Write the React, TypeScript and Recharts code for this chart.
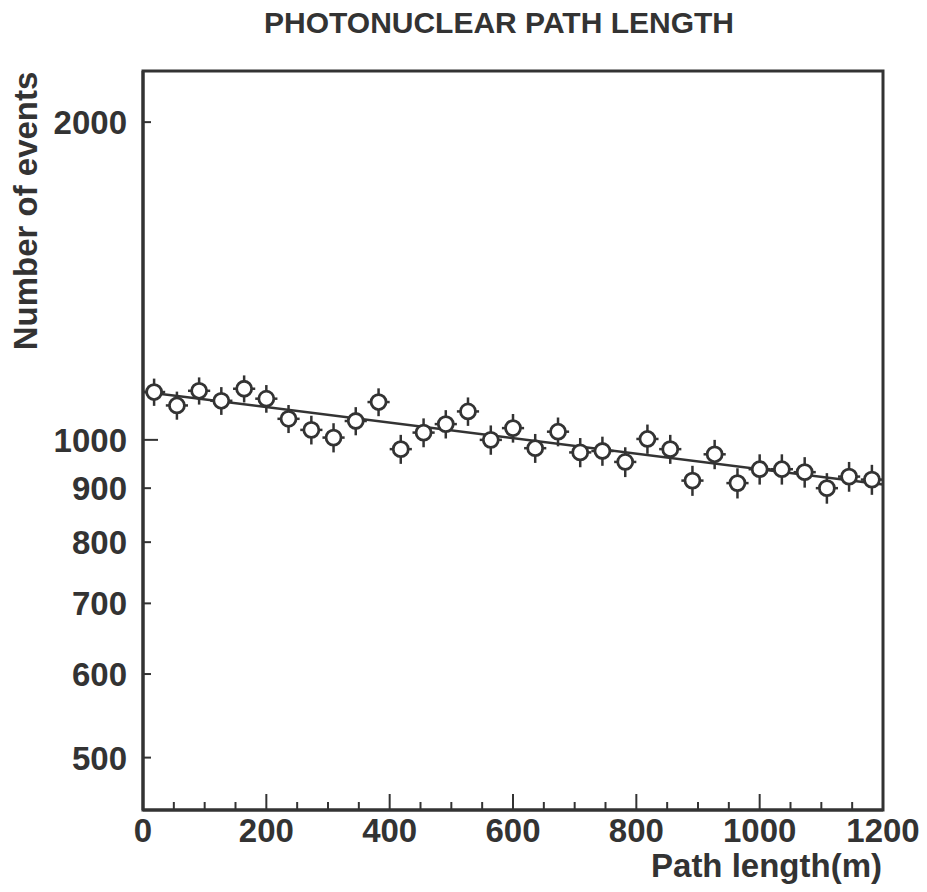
import { ComposedChart, Scatter, Line, XAxis, YAxis, ErrorBar } from 'recharts';

// histogram bins (m) and counts
const binCenters = [18, 55, 91, 127, 164, 200, 236, 273, 309, 345, 382, 418, 455, 491, 527, 564, 600, 636, 673, 709, 745, 782, 818, 855, 891, 927, 964, 1000, 1036, 1073, 1109, 1145, 1182];
const eventCounts = [1110, 1078, 1113, 1089, 1118, 1094, 1047, 1022, 1005, 1042, 1086, 980, 1016, 1035, 1064, 1000, 1026, 982, 1018, 973, 976, 953, 1002, 980, 915, 969, 910, 938, 938, 932, 900, 923, 917];
const countErrors = [33, 33, 33, 33, 33, 33, 32, 32, 32, 32, 33, 31, 32, 32, 33, 32, 32, 31, 32, 31, 31, 31, 32, 31, 30, 31, 30, 31, 31, 31, 30, 30, 30];
const binHalfWidth = 18;

// exponential fit, straight on the log axis
const fitX = [0, 1200];
const fitY = [1111, 907];

const xTicks = [0, 50, 100, 150, 200, 250, 300, 350, 400, 450, 500, 550, 600, 650, 700, 750, 800, 850, 900, 950, 1000, 1050, 1100, 1150, 1200];
const xLabelTicks = [0, 200, 400, 600, 800, 1000, 1200];
const yTicks = [500, 600, 700, 800, 900, 1000, 2000];

const points = binCenters.map((x, i) => ({ x, count: eventCounts[i], ey: countErrors[i], ex: binHalfWidth }));
const fitData = fitX.map((x, i) => ({ x, y: fitY[i] }));

const INK = '#333';
const FONT = "'Liberation Sans', Arial, Helvetica, sans-serif";

function XTick(props: any) {
  const { x, y, payload } = props;
  const major = xLabelTicks.includes(payload.value);
  return (
    <g>
      <line x1={x} y1={y} x2={x} y2={y - (major ? 16 : 8)} stroke={INK} strokeWidth={2} />
      {major && (
        <text x={x} y={y + 32} textAnchor="middle" fill={INK} fontFamily={FONT} fontWeight={700} fontSize={33}>
          {payload.value}
        </text>
      )}
    </g>
  );
}

function YTick(props: any) {
  const { x, y, payload } = props;
  const major = payload.value === 1000;
  return (
    <g>
      <line x1={x} y1={y} x2={x + (major ? 15 : 8)} y2={y} stroke={INK} strokeWidth={2} />
      <text x={x - 16} y={y + 12} textAnchor="end" fill={INK} fontFamily={FONT} fontWeight={700} fontSize={33}>
        {payload.value}
      </text>
    </g>
  );
}

function HollowCircle(props: any) {
  const { cx, cy } = props;
  return <circle cx={cx} cy={cy} r={7.5} fill="#fff" stroke={INK} strokeWidth={2.8} />;
}

export default function App() {
  return (
    <div style={{ position: 'absolute', left: 0, top: 0, width: 927, height: 892, background: '#fff' }}>
      <ComposedChart width={927} height={892} margin={{ top: 71, right: 44, bottom: 42, left: 0 }}>
        <XAxis
          dataKey="x"
          type="number"
          domain={[0, 1200]}
          allowDataOverflow
          ticks={xTicks}
          interval={0}
          height={40}
          tickSize={0}
          tickMargin={0}
          tickLine={false}
          axisLine={{ stroke: INK, strokeWidth: 3 }}
          tick={<XTick />}
        />
        <YAxis
          type="number"
          scale="log"
          domain={[446, 2236]}
          allowDataOverflow
          ticks={yTicks}
          interval={0}
          width={143}
          tickSize={0}
          tickMargin={0}
          tickLine={false}
          axisLine={{ stroke: INK, strokeWidth: 3 }}
          tick={<YTick />}
        />
        <Line data={fitData} dataKey="y" type="linear" dot={false} activeDot={false} stroke={INK} strokeWidth={2.5} isAnimationActive={false} />
        <Scatter data={points} dataKey="count" shape={<HollowCircle />} isAnimationActive={false}>
          <ErrorBar dataKey="ey" direction="y" width={0} stroke={INK} strokeWidth={2.5} />
          <ErrorBar dataKey="ex" direction="x" width={0} stroke={INK} strokeWidth={2.5} />
        </Scatter>
      </ComposedChart>
      <svg width={927} height={892} style={{ position: 'absolute', left: 0, top: 0, pointerEvents: 'none' }}>
        <rect x={143} y={71} width={740} height={739} fill="none" stroke={INK} strokeWidth={3} />
        <text x={499} y={33} textAnchor="middle" fill={INK} fontFamily={FONT} fontWeight={700} fontSize={30}>
          PHOTONUCLEAR PATH LENGTH
        </text>
        <text x={37} y={211} transform="rotate(-90 37 211)" textAnchor="middle" fill={INK} fontFamily={FONT} fontWeight={700} fontSize={33}>
          Number of events
        </text>
        <text x={882} y={877} textAnchor="end" fill={INK} fontFamily={FONT} fontWeight={700} fontSize={33}>
          Path length(m)
        </text>
      </svg>
    </div>
  );
}
